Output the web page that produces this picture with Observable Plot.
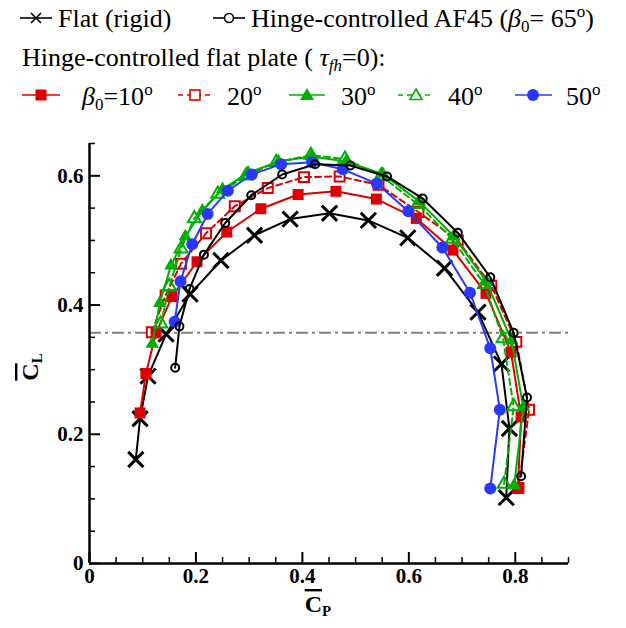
<!DOCTYPE html>
<html><head><meta charset="utf-8">
<script src="https://cdn.jsdelivr.net/npm/d3@7"></script>
<script src="https://cdn.jsdelivr.net/npm/@observablehq/plot@0.6"></script>
<style>
body{margin:0;background:#fff;}
#legend{display:block}
#chart svg{display:block}
</style></head><body>
<svg id="legend" width="626" height="120" font-family="Liberation Serif, 'Times New Roman', serif" font-size="26">
  <!-- line 1 -->
  <line x1="20" x2="52" y1="18" y2="18" stroke="#000" stroke-width="1.6"/>
  <path d="M31,13L41,23M31,23L41,13" stroke="#000" stroke-width="1.6"/>
  <text x="58" y="27">Flat (rigid)</text>
  <line x1="213" x2="245" y1="18" y2="18" stroke="#000" stroke-width="1.6"/>
  <circle cx="229" cy="18" r="4.5" fill="#fff" stroke="#000" stroke-width="1.6"/>
  <text x="251" y="27">Hinge-controlled AF45 (<tspan font-style="italic">β</tspan><tspan font-size="17" dy="5">0</tspan><tspan dy="-5">= 65</tspan><tspan font-size="17" dy="-10">o</tspan><tspan dy="10">)</tspan></text>
  <!-- line 2 -->
  <text x="22" y="66">Hinge-controlled flat plate ( <tspan font-style="italic">τ</tspan><tspan font-style="italic" font-size="17" dy="5">fh</tspan><tspan dy="-5">=0):</tspan></text>
  <!-- line 3 -->
  <line x1="22" x2="60" y1="95" y2="95" stroke="#dd0000" stroke-width="1.6"/>
  <rect x="35.5" y="89.5" width="11" height="11" fill="#dd0000"/>
  <text x="82" y="105"><tspan font-style="italic">β</tspan><tspan font-size="17" dy="5">0</tspan><tspan dy="-5">=10</tspan><tspan font-size="17" dy="-10">o</tspan></text>
  <line x1="178" x2="212" y1="95" y2="95" stroke="#dd0000" stroke-width="1.6" stroke-dasharray="5,4"/>
  <rect x="190" y="90" width="10" height="10" fill="#fff" stroke="#dd0000" stroke-width="1.6"/>
  <text x="227" y="105">20<tspan font-size="17" dy="-10">o</tspan></text>
  <line x1="289" x2="325" y1="95" y2="95" stroke="#00b000" stroke-width="1.6"/>
  <path d="M307,88L314,100L300,100Z" fill="#00b000"/>
  <text x="341" y="105">30<tspan font-size="17" dy="-10">o</tspan></text>
  <line x1="398" x2="432" y1="95" y2="95" stroke="#00b000" stroke-width="1.6" stroke-dasharray="5,4"/>
  <path d="M416,89L422,99.5L410,99.5Z" fill="#fff" stroke="#00b000" stroke-width="1.6"/>
  <text x="448" y="105">40<tspan font-size="17" dy="-10">o</tspan></text>
  <line x1="515" x2="552" y1="95" y2="95" stroke="#2838ff" stroke-width="1.6"/>
  <circle cx="533" cy="95" r="6" fill="#2838ff"/>
  <text x="566" y="105">50<tspan font-size="17" dy="-10">o</tspan></text>
</svg>
<div id="chart"></div>
<script>
// ---- data ----
const flatX = [0.087,0.095,0.110,0.144,0.189,0.247,0.310,0.377,0.451,0.524,0.598,0.667,0.730,0.774,0.789,0.783];
const flatY = [0.161,0.224,0.290,0.355,0.417,0.469,0.508,0.533,0.542,0.531,0.504,0.457,0.389,0.309,0.209,0.102];

const af45X = [0.161,0.169,0.188,0.215,0.255,0.304,0.362,0.424,0.490,0.559,0.626,0.692,0.753,0.797,0.822,0.811];
const af45Y = [0.303,0.367,0.425,0.478,0.527,0.570,0.602,0.618,0.616,0.599,0.565,0.512,0.443,0.357,0.257,0.135];

const b10X = [0.095,0.106,0.125,0.155,0.202,0.258,0.322,0.392,0.463,0.539,0.614,0.683,0.745,0.792,0.811,0.805];
const b10Y = [0.233,0.294,0.357,0.413,0.467,0.513,0.549,0.571,0.576,0.564,0.534,0.485,0.418,0.327,0.227,0.116];

const b20X = [0.117,0.143,0.172,0.219,0.273,0.335,0.403,0.470,0.543,0.618,0.692,0.755,0.802,0.826,0.806];
const b20Y = [0.358,0.415,0.464,0.511,0.553,0.581,0.598,0.599,0.586,0.544,0.500,0.430,0.343,0.238,0.117];

const b30X = [0.118,0.132,0.153,0.180,0.212,0.250,0.298,0.355,0.417,0.482,0.551,0.620,0.685,0.746,0.793,0.815,0.798];
const b30Y = [0.340,0.403,0.461,0.506,0.546,0.579,0.605,0.622,0.630,0.622,0.603,0.560,0.506,0.436,0.345,0.242,0.121];

const b40X = [0.134,0.150,0.172,0.197,0.241,0.294,0.351,0.416,0.480,0.548,0.617,0.682,0.742,0.777,0.797,0.779];
const b40Y = [0.371,0.429,0.487,0.534,0.572,0.600,0.621,0.632,0.626,0.600,0.556,0.502,0.432,0.348,0.243,0.123];

const b50X = [0.160,0.171,0.193,0.222,0.260,0.305,0.360,0.418,0.476,0.540,0.599,0.663,0.715,0.753,0.771,0.753];
const b50Y = [0.374,0.437,0.494,0.541,0.577,0.602,0.618,0.621,0.610,0.588,0.545,0.489,0.419,0.333,0.238,0.116];

const refLine = [0.357];
const xMajor = [0, 0.2, 0.4, 0.6, 0.8];
const yMajor = [0, 0.2, 0.4, 0.6];
const xMinor = [0.05,0.1,0.15,0.25,0.3,0.35,0.45,0.5,0.55,0.65,0.7,0.75,0.85,0.9];
const yMinor = [0.05,0.1,0.15,0.25,0.3,0.35,0.45,0.5,0.55,0.65];
const xTickLabels = ["0","0.2","0.4","0.6","0.8"];
const yTickLabels = ["0","0.2","0.4","0.6"];

const zip = (xs, ys) => xs.map((x, i) => ({x, y: ys[i]}));
const flat = zip(flatX, flatY), af45 = zip(af45X, af45Y);
const s10 = zip(b10X, b10Y), s20 = zip(b20X, b20Y), s30 = zip(b30X, b30Y), s40 = zip(b40X, b40Y), s50 = zip(b50X, b50Y);

const RED = "#dd0000", GREEN = "#00b000", BLUE = "#2838ff";

const plot = Plot.plot({
  width: 626, height: 508,
  marginLeft: 89, marginRight: 58, marginTop: 23, marginBottom: 65,
  x: {domain: [0, 0.9]},
  y: {domain: [0, 0.65]},
  style: {fontFamily: "Liberation Serif, 'Times New Roman', serif", fontSize: "21px", fontWeight: "bold", color: "#000", background: "#fff"},
  marks: [
    Plot.ruleY(refLine, {stroke: "#808080", strokeWidth: 2, strokeDasharray: "12,4,3,4"}),
    Plot.line(flat, {x: "x", y: "y", stroke: "#000", strokeWidth: 2}),
    Plot.dot(flat, {x: "x", y: "y", symbol: "times", r: 7, stroke: "#000", strokeWidth: 3}),
    Plot.line(s10, {x: "x", y: "y", stroke: RED, strokeWidth: 2}),
    Plot.dot(s10, {x: "x", y: "y", symbol: "square", r: 6.2, fill: RED, stroke: "none"}),
    Plot.line(s20, {x: "x", y: "y", stroke: RED, strokeWidth: 2, strokeDasharray: "6,4"}),
    Plot.dot(s20, {x: "x", y: "y", symbol: "square", r: 5.6, fill: "none", stroke: RED, strokeWidth: 2}),
    Plot.line(s30, {x: "x", y: "y", stroke: GREEN, strokeWidth: 2}),
    Plot.dot(s30, {x: "x", y: "y", symbol: "triangle", r: 5, fill: GREEN, stroke: "none"}),
    Plot.line(s40, {x: "x", y: "y", stroke: GREEN, strokeWidth: 2, strokeDasharray: "6,4"}),
    Plot.dot(s40, {x: "x", y: "y", symbol: "triangle", r: 4.8, fill: "none", stroke: GREEN, strokeWidth: 2}),
    Plot.line(s50, {x: "x", y: "y", stroke: BLUE, strokeWidth: 2}),
    Plot.dot(s50, {x: "x", y: "y", symbol: "circle", r: 6, fill: BLUE, stroke: "none"}),
    Plot.line(af45, {x: "x", y: "y", stroke: "#000", strokeWidth: 2}),
    Plot.dot(af45, {x: "x", y: "y", symbol: "circle", r: 4, fill: "none", stroke: "#000", strokeWidth: 2}),
    Plot.ruleX([0], {strokeWidth: 2.5}),
    Plot.ruleY([0], {strokeWidth: 2.5}),
    Plot.axisX(xMajor, {tickSize: -11, strokeWidth: 2, tickFormat: () => "", label: null}),
    Plot.axisX(xMinor, {tickSize: -6, strokeWidth: 1.5, tickFormat: () => "", label: null}),
    Plot.axisX(xMajor, {tickSize: 0, tickPadding: 5, tickFormat: (d, i) => xTickLabels[i], label: null}),
    Plot.axisY(yMajor, {tickSize: -11, strokeWidth: 2, tickFormat: () => "", label: null}),
    Plot.axisY(yMinor, {tickSize: -6, strokeWidth: 1.5, tickFormat: () => "", label: null}),
    Plot.axisY(yMajor, {tickSize: 0, tickPadding: 6, tickFormat: (d, i) => yTickLabels[i], label: null})
  ]
});

const svg = d3.select(plot);
// x-axis title: C-bar with subscript P
const xt = svg.append("text").attr("x", 318).attr("y", 492)
  .attr("font-family", "Liberation Serif, 'Times New Roman', serif").attr("font-weight", "bold").attr("font-size", 24).attr("fill", "#000");
xt.append("tspan").attr("style", "text-decoration: overline").text("C");
xt.append("tspan").attr("font-size", 15).attr("dy", 4).text("P");
// y-axis title, rotated (reads bottom to top)
const yt = svg.append("text").attr("transform", "translate(38,247) rotate(-90)")
  .attr("font-family", "Liberation Serif, 'Times New Roman', serif").attr("font-weight", "bold").attr("font-size", 24).attr("fill", "#000");
yt.append("tspan").attr("style", "text-decoration: overline").text("C");
yt.append("tspan").attr("font-size", 15).attr("dy", 4).text("L");

document.getElementById("chart").appendChild(plot);
</script>
</body></html>
